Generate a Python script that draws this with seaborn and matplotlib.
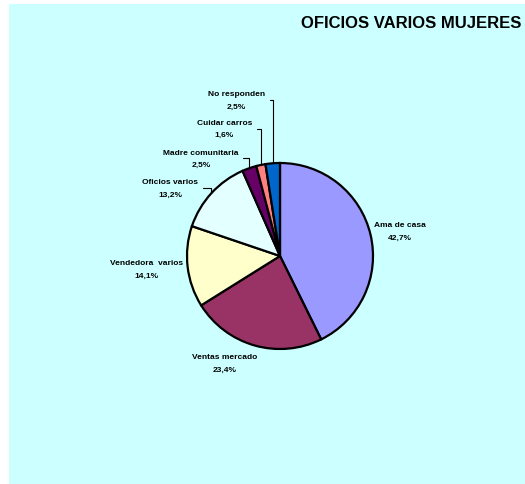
import seaborn as sns
import matplotlib.pyplot as plt
import numpy

categories = ['Ama de casa', 'Ventas mercado', 'Vendedora  varios', 'Oficios varios',
              'Madre comunitaria', 'Cuidar carros', 'No responden']
percent = [42.7, 23.4, 14.1, 13.2, 2.5, 1.6, 2.5]
colors = ['#9999FF', '#993366', '#FFFFCC', '#E4FFFF', '#660066', '#FF8080', '#0066CC']

# label centres in units of pie radius, and whether a leader line is drawn
label_pos = [(1.29, 0.27), (-0.60, -1.15), (-1.44, -0.14), (-1.18, 0.73),
             (-0.85, 1.05), (-0.60, 1.37), (-0.47, 1.68)]
leader = [False, False, False, True, True, True, True]

sns.set_style('white')
plt.rcParams['font.family'] = ['Liberation Sans', 'DejaVu Sans']
plt.rcParams['text.color'] = 'black'

W, H = 525, 485
fig = plt.figure(figsize=(W / 100, H / 100), dpi=100, facecolor='white')

# cyan chart area
bg = fig.add_axes([9 / W, 0, 516 / W, 480 / H])
bg.set_facecolor('#CCFFFF')
bg.set_xticks([])
bg.set_yticks([])
for s in bg.spines.values():
    s.set_visible(False)

fig.text(521 / W, 1 - 24 / H, 'OFICIOS VARIOS MUJERES', ha='right', va='center',
         fontsize=12, fontweight='bold', color='black')

# pie: centre (280, 257) from top, radius 93 px
r = 93
cx, cy = 280, H - 257
lim = 2.0
ax = fig.add_axes([(cx - lim * r) / W, (cy - lim * r) / H, 2 * lim * r / W, 2 * lim * r / H])
ax.set_facecolor('none')
wedges, _ = ax.pie(percent, colors=colors, startangle=90, counterclock=False,
                   wedgeprops=dict(edgecolor='black', linewidth=1.6))
ax.set_xlim(-lim, lim)
ax.set_ylim(-lim, lim)
ax.set_aspect('equal')
ax.axis('off')

for w, name, p, pos, lead in zip(wedges, categories, percent, label_pos, leader):
    txt = '{}\n{}%'.format(name, ('%.1f' % p).replace('.', ','))
    if lead:
        ang = numpy.deg2rad((w.theta1 + w.theta2) / 2)
        ax.annotate(txt, xy=(numpy.cos(ang), numpy.sin(ang)), xytext=pos,
                    ha='center', va='center', fontsize=6, fontweight='bold',
                    linespacing=2.05, color='black',
                    arrowprops=dict(arrowstyle='-', color='black', lw=0.8,
                                    shrinkA=1, shrinkB=0,
                                    connectionstyle='angle,angleA=0,angleB=90,rad=0'))
    else:
        ax.text(pos[0], pos[1], txt, ha='center', va='center', fontsize=6,
                fontweight='bold', linespacing=2.05, color='black')

fig.savefig('out.png', dpi=100, facecolor='white')
